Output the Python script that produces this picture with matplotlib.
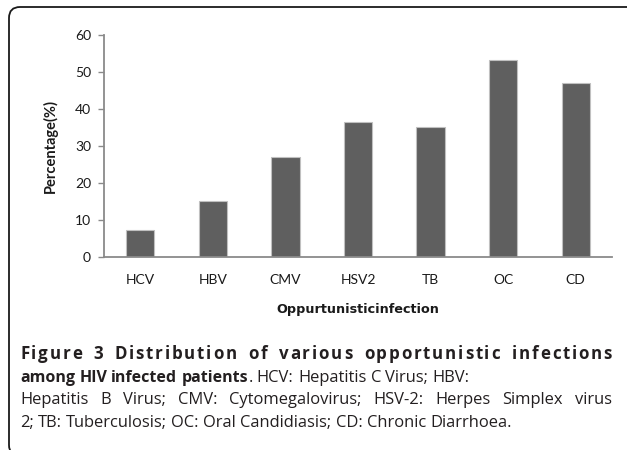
import matplotlib
matplotlib.use("Agg")
import matplotlib.pyplot as plt
from matplotlib import font_manager, transforms
from matplotlib.patches import FancyBboxPatch

categories = ["HCV", "HBV", "CMV", "HSV2", "TB", "OC", "CD"]
values = [7.3, 15.1, 26.9, 36.6, 35.2, 53.3, 46.9]
yticks = [0, 10, 20, 30, 40, 50, 60]
xlabel = "Oppurtunisticinfection"
ylabel = "Percentage(%)"

caption_title = "Figure 3 Distribution of various opportunistic infections"
caption_lines = [
    [("among", True), ("HIV", True), ("infected", True), ("patients", True), (".", False, False),
     ("HCV:", False), ("Hepatitis", False), ("C", False), ("Virus;", False), ("HBV:", False)],
    [("Hepatitis", False), ("B", False), ("Virus;", False), ("CMV:", False), ("Cytomegalovirus;", False),
     ("HSV-2:", False), ("Herpes", False), ("Simplex", False), ("virus", False)],
    [("2;", False), ("TB:", False), ("Tuberculosis;", False), ("OC:", False), ("Oral", False),
     ("Candidiasis;", False), ("CD:", False), ("Chronic", False), ("Diarrhoea.", False)],
]
justified = [False, True, False]


def pick(fams):
    for f in fams:
        try:
            font_manager.findfont(font_manager.FontProperties(family=f), fallback_to_default=False)
            return f
        except Exception:
            pass
    return "DejaVu Sans"


tick_font = pick(["Lato", "Open Sans"])
cap_font = pick(["Open Sans", "DejaVu Sans"])

W, H = 627, 450
fig = plt.figure(figsize=(W / 100, H / 100), dpi=100)
fig.patch.set_facecolor("white")
ident = transforms.IdentityTransform()

# rounded frame (only top/left visible), in pixel coordinates
frame = FancyBboxPatch((9, -6), 640 - 9, (H - 7) + 6,
                       boxstyle="round,pad=0,rounding_size=11",
                       transform=ident, fill=False, edgecolor="#1a1a1a",
                       linewidth=1.3, clip_on=False)
fig.patches.append(frame)

ax = fig.add_axes([104 / W, 1 - 257 / H, (612 - 104) / W, (257 - 35) / H])
x = list(range(len(categories)))
ax.bar(x, values, width=0.39, color="#5f5f5f", edgecolor="#c0c0c0", linewidth=0.8, zorder=2)
ax.set_xlim(-0.5, len(categories) - 0.5)
ax.set_ylim(0, 60)
ax.set_yticks(yticks)
ax.set_xticks(x)
ax.set_xticklabels(categories)
for s in ["top", "right"]:
    ax.spines[s].set_visible(False)
for s in ["left", "bottom"]:
    ax.spines[s].set_color("#8a8a8a")
    ax.spines[s].set_linewidth(1.3)
ax.tick_params(axis="y", length=4.3, width=1.0, color="#8a8a8a", pad=5,
               labelsize=10, labelcolor="#1a1a1a")
ax.tick_params(axis="x", length=0, pad=12, labelsize=10, labelcolor="#1a1a1a")
for lab in ax.get_xticklabels() + ax.get_yticklabels():
    lab.set_family(tick_font)
ax.set_ylabel(ylabel, fontsize=10.5, fontweight="bold", family=tick_font, color="#1a1a1a",
              va="center")
ax.yaxis.set_label_coords((50 - 104) / 508, 0.5)
ax.set_xlabel(xlabel, fontsize=9.2, fontweight="bold", family="DejaVu Sans", color="#1a1a1a",
              va="center")
ax.xaxis.set_label_coords(0.5, (257 - 310) / 222)

# caption
renderer = fig.canvas.get_renderer()
title_size = 12.2
bold_size = 11.5
reg_size = 11.9
x0, x1 = 20, 612


def measure(s, bold, size=None):
    if size is None:
        size = bold_size if bold else reg_size
    t = fig.text(0, 0, s, fontsize=size, family=cap_font,
                 fontweight="bold" if bold else "normal", transform=ident)
    w = t.get_window_extent(renderer).width
    t.remove()
    return w


# title line: justified with letter spacing plus wider word spacing
title_base = 359
n = len(caption_title)
n_spaces = caption_title.count(" ")
natural = measure(caption_title, True, title_size)
units = (n - 1) + 2 * n_spaces
extra = (x1 - x0 - natural) / units
sp_b = measure("a a", True, title_size) - measure("aa", True, title_size)
for i, ch in enumerate(caption_title):
    if ch == " ":
        continue
    prefix = caption_title[:i]
    if prefix == "":
        pw = 0
    elif prefix.endswith(" "):
        pw = measure(prefix.rstrip(), True, title_size) + sp_b
    else:
        pw = measure(prefix, True, title_size)
    k = i + 2 * prefix.count(" ")
    fig.text(x0 + pw + k * extra, H - title_base, ch, fontsize=title_size, family=cap_font,
             fontweight="bold", color="#231f20", transform=ident, va="baseline", ha="left")

baselines = [382, 404, 427]
space_w = measure("a a", False) - measure("aa", False)
for line, just, by in zip(caption_lines, justified, baselines):
    toks = []
    for tok in line:
        txt, bold = tok[0], tok[1]
        sp = tok[2] if len(tok) > 2 else True
        toks.append((txt, bold, sp, measure(txt, bold)))
    ngaps = sum(1 for i, t in enumerate(toks) if i > 0 and t[2])
    total = sum(t[3] for t in toks)
    gap = (x1 - x0 - total) / ngaps if just else space_w
    cx = x0
    for i, (txt, bold, sp, w) in enumerate(toks):
        if i > 0 and sp:
            cx += gap
        fig.text(cx, H - by, txt, fontsize=bold_size if bold else reg_size, family=cap_font,
                 fontweight="bold" if bold else "normal", color="#231f20",
                 transform=ident, va="baseline", ha="left")
        cx += w

fig.savefig("out.png", dpi=100, facecolor="white")
